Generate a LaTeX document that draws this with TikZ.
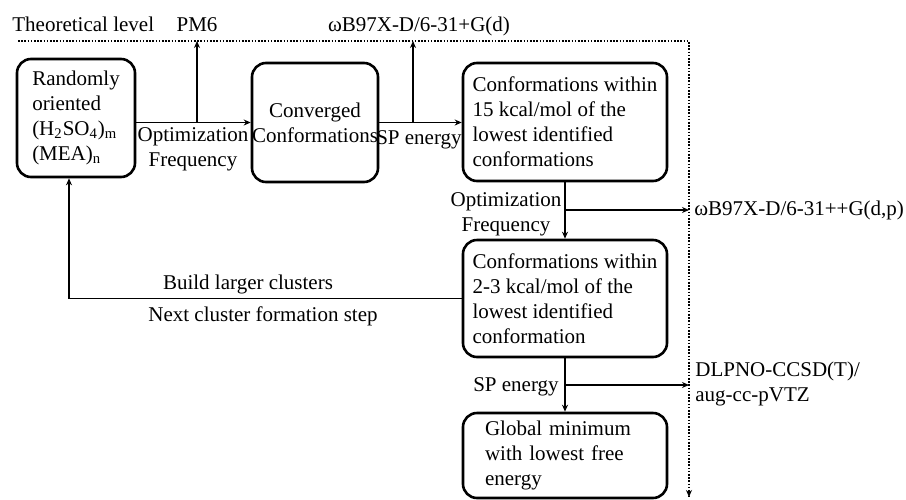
\documentclass[tikz,border=0pt]{standalone}
\usepackage{fontspec}
\setmainfont{Liberation Serif}
\usetikzlibrary{arrows.meta}

\begin{document}
\begin{tikzpicture}[x=0.5pt,y=-0.5pt,font=\fontsize{10.5}{12.5}\selectfont,
  stepbox/.style={draw,line width=1.3pt,rounded corners=7pt,inner sep=0pt},
  arr/.style={-{Stealth[length=3.5pt,width=3pt]},line width=0.9pt},
  levelline/.style={line width=1pt,dash pattern=on 0.8pt off 0.8pt},
  txt/.style={inner sep=0pt}]
\useasboundingbox (0,0) rectangle (906,499);

% ===== THEORETICAL LEVEL (dotted frame) =====
\coordinate (lvlL) at (18,41);
\coordinate (lvlR) at (689,41);
\coordinate (lvlB) at (689,497);
\draw[levelline] (lvlL) -- (lvlR) -- (lvlB);
\draw[-{Stealth[length=3.5pt,width=3pt]},line width=0.8pt] ([yshift=2pt]lvlB) -- (lvlB);
\node[txt,anchor=base west] (lvl) at (12,31) {Theoretical level};
\node[txt,anchor=base] (pm6) at (197,31) {PM6};
\node[txt,anchor=base] (wbd) at (419,31) {ωB97X-D/6-31+G(d)};

% ===== BOXES =====
\node[stepbox,minimum width=59pt,minimum height=59pt,align=left] (rand) at (76,118)
  {Randomly\\oriented\\(H\textsubscript{2}SO\textsubscript{4})\textsubscript{m}\\(MEA)\textsubscript{n}};
\node[stepbox,minimum width=63pt,minimum height=59.5pt,align=center] (conv) at (315,122.5)
  {Converged\\Conformations};
\node[stepbox,minimum width=102pt,minimum height=59pt,align=left] (within15) at (565,122)
  {Conformations within\\15 kcal/mol of the\\lowest identified\\conformations};
\node[stepbox,minimum width=102pt,minimum height=58.5pt,align=left] (within2) at (565,298.5)
  {Conformations within\\2-3 kcal/mol of the\\lowest identified\\conformation};
\node[stepbox,minimum width=102pt,minimum height=42.5pt,text width=80pt,align=left] (globmin) at (565,455.5)
  {Global minimum\\with lowest free\\energy};

% ===== PM6 step =====
\draw[arr] (rand.east |- conv.west) -- (conv.west);
\coordinate (pm6jn) at (197,122.5);
\draw[arr] (pm6jn) -- (pm6jn |- lvlL);
\node[txt,align=center] (optfreqA) at (193,149) {Optimization\\Frequency};

% ===== wB97X-D/6-31+G(d) step =====
\draw[arr] (conv.east) -- (conv.east -| within15.west);
\coordinate (wbdjn) at (413,122.5);
\draw[arr] (wbdjn) -- (wbdjn |- lvlL);
\node[txt] (spA) at (419,140) {SP energy};

% ===== wB97X-D/6-31++G(d,p) step =====
\draw[arr] (within15) -- (within2);
\coordinate (optjn) at (565,210);
\draw[arr] (optjn) -- (optjn -| lvlR);
\node[txt,align=center] (optfreqB) at (506,214) {Optimization\\Frequency};
\node[txt,anchor=west] (wbdp) at (694,210) {ωB97X-D/6-31++G(d,p)};

% ===== DLPNO step =====
\draw[arr] (within2) -- (globmin);
\coordinate (spjn) at (565,385);
\draw[arr] (spjn) -- (spjn -| lvlR);
\node[txt] (spB) at (516,387) {SP energy};
\node[txt,anchor=west,align=left] (dlpno) at (695,384) {DLPNO-CCSD(T)/\\aug-cc-pVTZ};

% ===== feedback loop =====
\draw[arr] (within2.west) -| ([xshift=-3.5pt]rand.south);
\node[txt] (build) at (248,284) {Build larger clusters};
\node[txt] (next) at (263,316) {Next cluster formation step};

\end{tikzpicture}
\end{document}
